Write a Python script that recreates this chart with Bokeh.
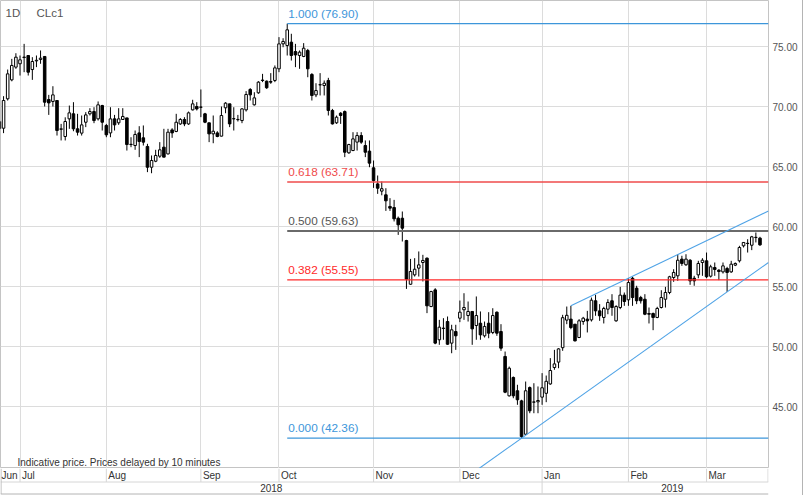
import numpy as np
from bokeh.plotting import figure
from bokeh.layouts import column
from bokeh.models import Range1d, FixedTicker, NumeralTickFormatter
from bokeh.embed import file_html
from bokeh.resources import INLINE
from bokeh.core.properties import value

# ---------------- data (daily CLc1, one entry per trading day, first bar = index -1) ----------------
first_bar_index = -1
opens = [68.75, 68.19, 70.64, 72.22, 73.28, 73.56, 74.08, 74.25, 73.08, 73.80, 73.92, 74.17, 70.58, 70.42, 70.50, 68.10,
         67.50, 68.97, 69.39, 68.14, 67.78, 68.69, 69.39, 69.58, 68.97, 70.08, 68.42, 67.80, 68.97, 68.64, 68.92, 69.05,
         66.85, 66.75, 67.80, 67.39, 66.67, 64.94, 65.44, 65.86, 66.61, 66.05, 68.05, 67.92, 68.55, 68.92, 68.55, 69.72,
         70.00, 69.95, 69.39, 68.64, 67.72, 67.80, 67.53, 69.89, 70.22, 68.97, 68.92, 68.83, 69.72, 71.42, 70.14, 71.14,
         72.20, 72.11, 72.08, 72.17, 73.14, 75.22, 75.08, 75.36, 74.58, 74.25, 74.17, 74.67, 72.67, 70.97, 71.80, 71.75,
         72.17, 69.67, 68.64, 69.44, 69.58, 66.14, 66.33, 67.03, 67.58, 66.75, 66.28, 64.89, 63.55, 62.95, 62.64, 61.67,
         61.58, 60.69, 60.69, 58.83, 55.19, 55.97, 56.53, 57.00, 57.36, 53.33, 54.72, 50.56, 51.50, 52.08, 50.28, 51.25,
         52.36, 53.06, 52.58, 52.92, 51.75, 51.94, 50.89, 51.94, 51.17, 52.86, 51.25, 49.17, 45.89, 47.42, 46.31, 45.47,
         42.69, 46.58, 45.36, 45.39, 45.78, 46.10, 46.88, 48.25, 48.70, 49.90, 52.20, 52.28, 51.86, 50.75, 52.08, 52.28,
         52.22, 53.81, 52.97, 52.42, 53.11, 53.81, 52.14, 53.25, 54.28, 53.89, 55.69, 54.86, 54.08, 53.94, 52.75, 52.75,
         52.42, 53.25, 53.94, 54.50, 55.75, 55.89, 57.28, 56.81, 57.19, 55.69, 55.97, 57.00, 57.14, 55.86, 56.58, 56.36,
         56.22, 56.50, 56.22, 56.78, 57.14, 58.39, 58.58, 58.44, 59.08, 59.03]
highs = [68.85, 70.86, 73.08, 73.97, 74.44, 74.25, 75.22, 74.25, 74.11, 74.25, 74.67, 74.17, 70.97, 71.69, 70.50, 68.55,
         69.10, 70.08, 70.36, 69.39, 69.25, 69.53, 69.86, 69.94, 70.42, 70.14, 68.55, 69.94, 69.30, 69.86, 69.86, 69.05,
         67.44, 68.00, 68.36, 68.42, 66.89, 65.92, 66.39, 67.03, 68.14, 68.14, 68.19, 69.39, 69.03, 69.11, 69.58, 70.56,
         70.36, 71.42, 69.47, 68.64, 69.25, 67.94, 70.00, 70.36, 70.22, 69.94, 69.30, 69.86, 71.28, 71.53, 71.19, 72.11,
         72.72, 72.17, 72.78, 73.42, 75.78, 75.69, 76.90, 76.06, 75.22, 74.67, 75.28, 74.80, 72.78, 71.94, 72.78, 72.17,
         72.39, 69.80, 69.25, 69.53, 69.67, 66.89, 67.86, 67.86, 67.86, 67.17, 67.17, 65.50, 64.25, 63.75, 63.19, 62.36,
         62.22, 60.83, 61.25, 58.89, 57.30, 57.36, 57.92, 57.64, 57.42, 54.64, 54.86, 52.22, 52.36, 52.50, 51.81, 51.81,
         53.83, 54.44, 53.75, 52.92, 54.17, 52.92, 52.08, 52.86, 53.19, 52.92, 51.86, 49.58, 48.33, 47.50, 46.81, 45.56,
         47.08, 46.67, 46.94, 46.67, 47.78, 47.58, 49.03, 49.72, 49.86, 52.64, 53.33, 53.39, 51.86, 52.28, 52.47, 52.97,
         54.08, 54.31, 53.53, 53.31, 53.94, 54.36, 53.44, 54.97, 54.50, 55.69, 55.81, 55.06, 54.22, 54.36, 53.25, 52.83,
         53.31, 54.69, 54.97, 55.89, 56.44, 57.69, 57.56, 57.69, 57.28, 55.89, 57.14, 57.36, 57.83, 56.81, 57.00, 56.44,
         57.00, 56.64, 57.14, 57.00, 58.39, 58.67, 58.94, 59.22, 59.50, 59.14]
lows = [67.85, 67.78, 70.50, 72.10, 73.14, 72.58, 72.86, 72.58, 72.22, 73.28, 73.56, 70.00, 69.30, 70.00, 67.58, 67.17,
        67.17, 68.14, 67.94, 67.58, 67.58, 68.28, 69.25, 68.61, 68.83, 68.00, 67.44, 67.44, 68.00, 68.47, 68.89, 66.33,
        66.61, 66.39, 65.78, 66.75, 64.53, 64.44, 65.36, 65.72, 65.78, 66.00, 67.39, 67.86, 68.47, 68.36, 68.47, 69.67,
        69.67, 69.11, 68.61, 67.03, 66.94, 67.44, 67.50, 69.44, 68.28, 68.00, 68.75, 68.61, 69.58, 70.50, 70.08, 71.06,
        72.03, 71.47, 71.89, 72.03, 72.86, 74.94, 74.25, 73.83, 73.28, 73.14, 74.11, 72.44, 70.50, 70.78, 70.92, 70.92,
        69.25, 68.50, 68.55, 68.55, 65.78, 66.06, 66.28, 66.33, 66.89, 65.78, 64.94, 63.22, 62.72, 62.60, 61.30, 61.30,
        60.42, 59.30, 58.75, 54.80, 55.14, 55.83, 55.83, 55.42, 52.78, 53.28, 50.19, 50.14, 50.56, 50.14, 49.44, 49.72,
        52.03, 52.22, 52.08, 50.14, 50.56, 50.56, 50.75, 50.69, 51.03, 50.89, 49.64, 46.11, 45.83, 45.69, 45.14, 42.36,
        42.64, 44.44, 44.44, 44.44, 45.14, 45.36, 46.81, 48.06, 48.19, 49.64, 51.86, 51.44, 50.42, 50.70, 51.81, 51.17,
        52.08, 52.56, 52.14, 51.92, 52.69, 52.56, 52.06, 53.11, 53.39, 53.39, 53.39, 53.53, 53.58, 52.61, 51.92, 51.36,
        52.36, 53.17, 53.25, 54.36, 55.39, 55.47, 56.72, 56.72, 55.14, 55.06, 55.69, 55.89, 55.69, 55.75, 55.89, 55.53,
        56.08, 54.55, 56.14, 56.70, 57.00, 58.25, 57.83, 58.03, 58.67, 58.39]
closes = [68.15, 70.50, 72.72, 73.42, 74.11, 73.89, 74.12, 72.86, 73.75, 73.85, 74.03, 70.36, 70.30, 70.97, 68.00, 68.14,
          68.75, 69.47, 68.14, 67.86, 68.47, 69.30, 69.58, 68.83, 70.14, 68.69, 67.64, 68.97, 68.47, 68.97, 69.17, 66.83,
          66.83, 67.67, 67.08, 67.03, 64.94, 65.50, 65.92, 66.39, 65.78, 67.86, 67.80, 68.69, 68.92, 68.55, 69.47, 70.22,
          69.80, 69.94, 68.69, 67.72, 67.94, 67.50, 69.25, 70.28, 68.55, 68.99, 68.90, 69.80, 71.00, 70.97, 70.72, 72.03,
          72.17, 71.56, 72.03, 73.22, 75.22, 75.42, 76.39, 74.25, 74.30, 74.53, 74.86, 73.14, 70.92, 71.33, 71.82, 71.94,
          69.67, 68.55, 69.11, 69.25, 66.19, 66.83, 67.30, 67.58, 67.03, 66.19, 65.28, 63.83, 63.19, 63.15, 62.14, 61.53,
          60.64, 60.14, 59.86, 55.61, 56.25, 56.44, 56.80, 57.17, 53.39, 54.58, 50.28, 51.61, 51.53, 50.19, 51.39, 50.89,
          52.86, 53.25, 52.92, 51.47, 52.58, 50.97, 51.67, 51.11, 52.58, 51.11, 49.86, 46.19, 48.19, 45.89, 45.56, 42.50,
          46.31, 44.64, 45.38, 45.50, 46.56, 47.10, 48.00, 48.55, 49.80, 52.40, 52.60, 51.58, 50.47, 52.14, 52.36, 52.14,
          53.86, 52.97, 52.56, 53.17, 53.67, 53.25, 53.33, 54.28, 53.75, 55.33, 54.08, 53.81, 53.81, 52.69, 52.69, 52.42,
          53.17, 54.08, 54.50, 55.81, 56.17, 57.19, 56.92, 57.28, 55.47, 55.47, 56.92, 57.19, 55.81, 56.64, 56.42, 56.25,
          56.72, 56.17, 56.86, 56.92, 58.25, 58.67, 58.60, 59.14, 59.10, 58.47]

# month labels and the index of each month's first bar
month_labels = ["Jun", "Jul", "Aug", "Sep", "Oct", "Nov", "Dec", "Jan", "Feb", "Mar"]
month_first_bar = [-1, 4, 25, 48, 67, 90, 111, 131, 152, 171]
year_labels = ["2018", "2019"]
year_first_bar = [-1, 131]

y_ticks = [45, 50, 55, 60, 65, 70, 75]

# Fibonacci retracement
fib_ratio_labels = ["1.000", "0.618", "0.500", "0.382", "0.000"]
fib_levels = [76.90, 63.71, 59.63, 55.55, 42.36]
fib_start_bar = 69

# trend channel anchors (bar index, price)
upper_bars = [138, 152]
upper_prices = [53.39, 55.69]
lower_bars = [126, 176]
lower_prices = [42.36, 54.55]

# ---------------- layout constants ----------------
W, H = 802, 495          # plus 1px right border from the layout style -> 803
FRAME_W, FRAME_H = 768, 468
PX_PER_BAR = 4.111
BAR0_PX = 3.06
PX_PER_USD = 12.0
USD60_PX = 226.0
FONT = "Liberation Sans"


def kx(px):
    return (px - BAR0_PX) / PX_PER_BAR


def vy(py):
    return 60.0 + (USD60_PX - py) / PX_PER_USD


x_lo, x_hi = kx(0), kx(FRAME_W)
y_lo, y_hi = vy(FRAME_H), vy(0)
xr = Range1d(x_lo, x_hi)

p = figure(width=W, height=FRAME_H, x_range=xr, y_range=Range1d(y_lo, y_hi),
           output_backend="svg", toolbar_location=None, x_axis_location=None, y_axis_location="right",
           min_border_left=0, min_border_top=0, min_border_bottom=0, min_border_right=W - FRAME_W)
p.outline_line_color = "#c4c4c4"
p.background_fill_color = "white"
p.border_fill_color = "white"

ax = p.yaxis[0]
ax.ticker = FixedTicker(ticks=y_ticks)
ax.formatter = NumeralTickFormatter(format="0.00")
ax.major_tick_line_color = None
ax.minor_tick_line_color = None
ax.major_tick_out = 0
ax.major_tick_in = 0
ax.minor_tick_out = 0
ax.axis_line_color = None
ax.major_label_standoff = 4
ax.major_label_text_font = FONT
ax.major_label_text_font_size = "10px"
ax.major_label_text_color = "#555555"

p.ygrid.grid_line_color = "#dcdcdc"
p.xgrid.ticker = FixedTicker(ticks=month_first_bar)
p.xgrid.grid_line_color = "#dcdcdc"

o = np.array(opens); hi = np.array(highs); lo = np.array(lows); c = np.array(closes)
xs = np.arange(len(o)) + first_bar_index
up = c >= o
dn = ~up

p.segment(xs, hi, xs, lo, line_color="black", line_width=1)
p.vbar(x=xs[up], width=0.62, top=c[up], bottom=o[up], fill_color="white", line_color="black", line_width=1)
p.vbar(x=xs[dn], width=0.62, top=o[dn], bottom=c[dn], fill_color="black", line_color="black", line_width=1)

# Fibonacci lines
fib_colors = ["#3d96da", "#ef4b4b", "#6a6a6a", "#ff2a2a", "#3d96da"]
fib_text_colors = ["#3d96da", "#ef4b4b", "#555555", "#ff2a2a", "#3d96da"]
fib_widths = [1.2, 1.6, 2.0, 1.4, 1.2]
for lab, lev, col, tcol, lw in zip(fib_ratio_labels, fib_levels, fib_colors, fib_text_colors, fib_widths):
    p.segment(x0=[fib_start_bar], y0=[lev], x1=[x_hi], y1=[lev], line_color=col, line_width=lw)
    p.text(x=[fib_start_bar], y=[lev], text=[f"{lab} ({lev:.2f})"], text_color=tcol,
           text_font=value(FONT), text_font_size="11.8px", text_baseline="bottom", text_align="left",
           x_offset=1, y_offset=-3)

# channel lines
us = (upper_prices[1] - upper_prices[0]) / (upper_bars[1] - upper_bars[0])
p.segment(x0=[upper_bars[0]], y0=[upper_prices[0]], x1=[x_hi], y1=[upper_prices[0] + us * (x_hi - upper_bars[0])],
          line_color="#4fa3e6", line_width=1.1)
ls = (lower_prices[1] - lower_prices[0]) / (lower_bars[1] - lower_bars[0])
lx0 = lower_bars[0] + (y_lo - lower_prices[0]) / ls
p.segment(x0=[lx0], y0=[y_lo], x1=[x_hi], y1=[lower_prices[0] + ls * (x_hi - lower_bars[0])],
          line_color="#4fa3e6", line_width=1.1)

# header / footer texts
p.text(x=[kx(5)], y=[vy(12)], text=["1D"], text_color="#555555", text_font=value(FONT),
       text_font_size="11.5px", text_baseline="middle")
p.text(x=[kx(36)], y=[vy(12)], text=["CLc1"], text_color="#555555", text_font=value(FONT),
       text_font_size="11.5px", text_baseline="middle")
p.text(x=[kx(17)], y=[vy(462)], text=["Indicative price. Prices delayed by 10 minutes"], text_color="#333333",
       text_font=value(FONT), text_font_size="10px", text_baseline="middle")

# ---------------- date band (shares the x scale) ----------------
BH = H - FRAME_H
b = figure(width=W, height=BH, x_range=xr, y_range=Range1d(0, BH),
           output_backend="svg", toolbar_location=None, x_axis_location=None, y_axis_location=None,
           min_border_left=0, min_border_top=0, min_border_bottom=0, min_border_right=W - FRAME_W)
b.outline_line_color = None
b.xgrid.visible = False
b.ygrid.visible = False
b.background_fill_color = "white"
b.border_fill_color = "white"

mid_y = BH - 13.5
bot_y = 1.5
line_c = "#d6d6d6"
border_c = "#b4b4b4"
b.segment(x0=[x_lo], y0=[mid_y], x1=[x_hi], y1=[mid_y], line_color=line_c, line_width=1)
b.segment(x0=[x_lo], y0=[bot_y], x1=[x_hi], y1=[bot_y], line_color=border_c, line_width=1)
b.segment(x0=month_first_bar, y0=[mid_y] * len(month_first_bar), x1=month_first_bar, y1=[BH] * len(month_first_bar),
          line_color=line_c, line_width=1)
b.segment(x0=year_first_bar[1:], y0=[bot_y], x1=year_first_bar[1:], y1=[mid_y], line_color=line_c, line_width=1)
b.segment(x0=[kx(FRAME_W - 0.5)], y0=[mid_y], x1=[kx(FRAME_W - 0.5)], y1=[BH], line_color=line_c, line_width=1)
b.segment(x0=[kx(0.5)], y0=[bot_y], x1=[kx(0.5)], y1=[BH], line_color=border_c, line_width=1)

b.text(x=month_first_bar, y=[BH - 6.7] * len(month_first_bar), text=month_labels, text_color="#333333",
       text_font=value(FONT), text_font_size="10px", text_baseline="middle", text_align="left", x_offset=2)
year_edges = [x_lo] + year_first_bar[1:] + [kx(W)]
year_centers = [(year_edges[i] + year_edges[i + 1]) / 2 for i in range(len(year_labels))]
b.text(x=year_centers, y=[BH - 19.5] * len(year_labels), text=year_labels, text_color="#333333",
       text_font=value(FONT), text_font_size="10px", text_baseline="middle", text_align="center")

layout = column(p, b, spacing=0, styles={"border-right": "1px solid #b4b4b4"})
open("out.html", "w").write(file_html(layout, INLINE))
